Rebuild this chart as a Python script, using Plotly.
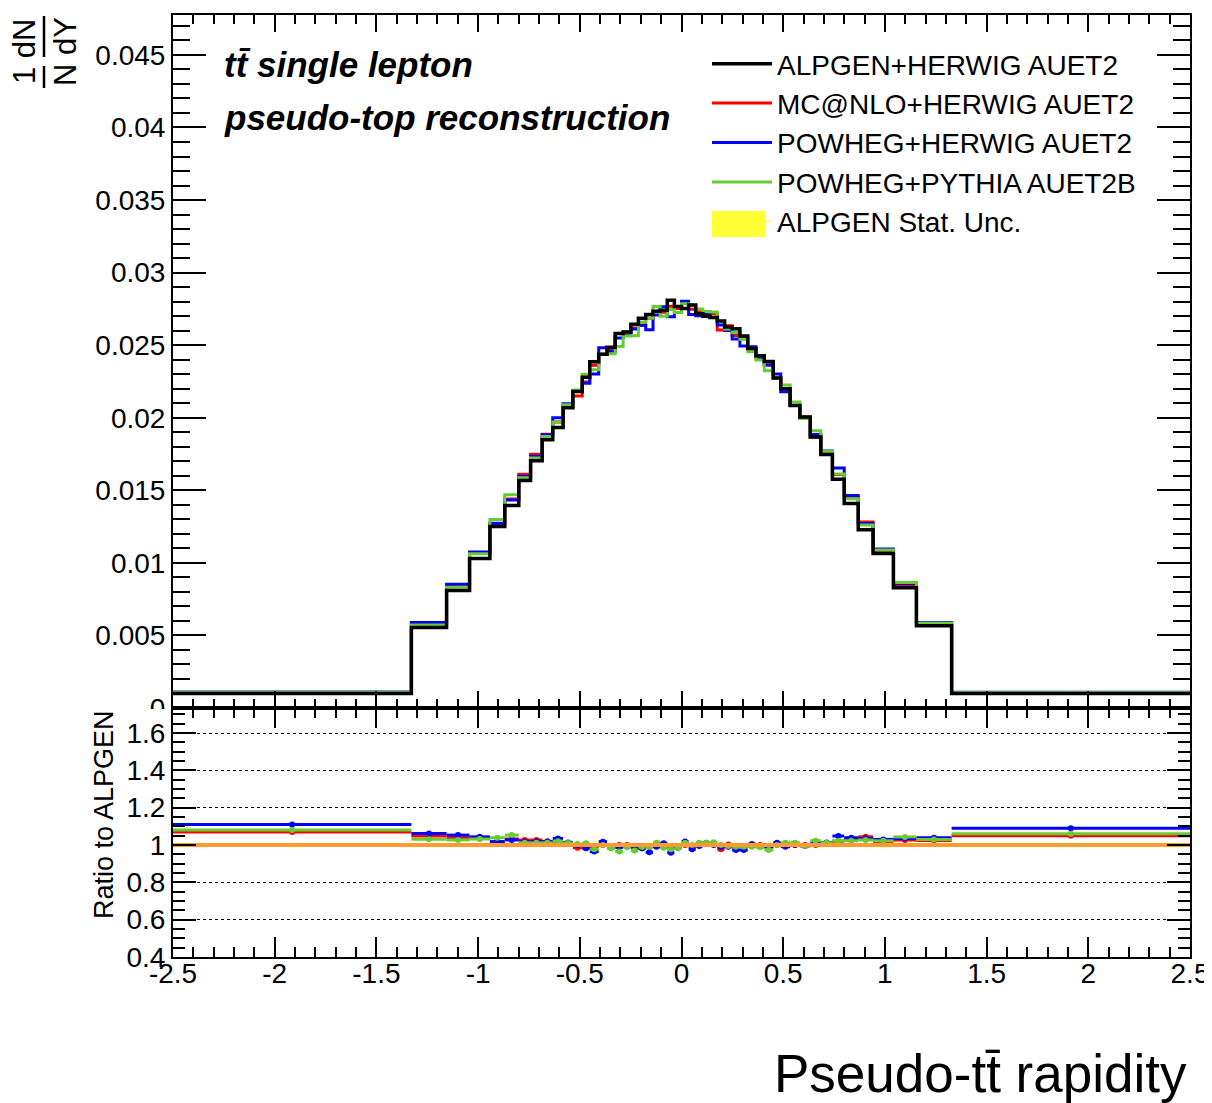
import numpy as np
import plotly.graph_objects as go

# ---------------- data ----------------
bin_edges = [-2.5, -1.328, -1.155, -1.042, -0.942, -0.869, -0.800, -0.742, -0.685,
             -0.633, -0.582, -0.534, -0.488, -0.451, -0.407, -0.366, -0.326, -0.287,
             -0.249, -0.212, -0.176, -0.140, -0.105, -0.070, -0.035, 0.0,
             0.035, 0.070, 0.105, 0.140, 0.176, 0.212, 0.249, 0.287, 0.326, 0.366,
             0.407, 0.451, 0.488, 0.534, 0.582, 0.633, 0.685, 0.742, 0.800, 0.869,
             0.942, 1.042, 1.155, 1.328, 2.5]

alpgen_herwig = [0.00100, 0.00555, 0.00810, 0.01030, 0.01250, 0.01395, 0.01568, 0.01703,
                 0.01849, 0.01932, 0.02068, 0.02180, 0.02279, 0.02386, 0.02438, 0.02486,
                 0.02580, 0.02590, 0.02644, 0.02685, 0.02712, 0.02733, 0.02740, 0.02810,
                 0.02767, 0.02753, 0.02776, 0.02717, 0.02700, 0.02690, 0.02666, 0.02625,
                 0.02614, 0.02564, 0.02477, 0.02427, 0.02388, 0.02274, 0.02199, 0.02084,
                 0.02005, 0.01868, 0.01747, 0.01577, 0.01409, 0.01228, 0.01064, 0.00829,
                 0.00566, 0.00100]

mcatnlo_herwig = [0.00107, 0.00582, 0.00842, 0.01066, 0.01265, 0.01440, 0.01610, 0.01749,
                  0.01886, 0.01971, 0.02078, 0.02149, 0.02247, 0.02362, 0.02438, 0.02474,
                  0.02580, 0.02590, 0.02618, 0.02637, 0.02685, 0.02733, 0.02726, 0.02768,
                  0.02753, 0.02753, 0.02748, 0.02731, 0.02732, 0.02717, 0.02605, 0.02633,
                  0.02567, 0.02551, 0.02477, 0.02427, 0.02364, 0.02274, 0.02199, 0.02084,
                  0.02005, 0.01868, 0.01756, 0.01609, 0.01451, 0.01282, 0.01083, 0.00851,
                  0.00580, 0.00105]

powheg_herwig = [0.00111, 0.00589, 0.00853, 0.01075, 0.01273, 0.01433, 0.01596, 0.01734,
                 0.01882, 0.02000, 0.02097, 0.02180, 0.02238, 0.02302, 0.02482, 0.02456,
                 0.02549, 0.02567, 0.02612, 0.02637, 0.02606, 0.02708, 0.02765, 0.02695,
                 0.02725, 0.02803, 0.02712, 0.02703, 0.02714, 0.02690, 0.02639, 0.02601,
                 0.02543, 0.02495, 0.02489, 0.02415, 0.02364, 0.02301, 0.02179, 0.02084,
                 0.01995, 0.01885, 0.01771, 0.01653, 0.01464, 0.01271, 0.01096, 0.00858,
                 0.00588, 0.00109]

powheg_pythia = [0.00108, 0.00572, 0.00832, 0.01063, 0.01299, 0.01469, 0.01587, 0.01723,
                 0.01871, 0.01971, 0.02089, 0.02191, 0.02300, 0.02331, 0.02438, 0.02441,
                 0.02490, 0.02564, 0.02565, 0.02658, 0.02685, 0.02766, 0.02699, 0.02745,
                 0.02725, 0.02786, 0.02776, 0.02750, 0.02732, 0.02728, 0.02666, 0.02612,
                 0.02588, 0.02541, 0.02455, 0.02398, 0.02324, 0.02274, 0.02225, 0.02109,
                 0.01995, 0.01911, 0.01768, 0.01613, 0.01441, 0.01261, 0.01088, 0.00865,
                 0.00583, 0.00106]

# relative statistical uncertainty of ALPGEN (ratio band half-width)
alpgen_stat_rel = [0.004, 0.010, 0.009, 0.009, 0.008, 0.008, 0.008, 0.007, 0.007, 0.007,
                   0.007, 0.007, 0.006, 0.006, 0.006, 0.006, 0.006, 0.006, 0.006, 0.006,
                   0.006, 0.006, 0.006, 0.006, 0.006, 0.006, 0.006, 0.006, 0.006, 0.006,
                   0.006, 0.006, 0.006, 0.006, 0.006, 0.006, 0.006, 0.006, 0.007, 0.007,
                   0.007, 0.007, 0.007, 0.007, 0.008, 0.008, 0.008, 0.009, 0.009, 0.004]

series_names = ["ALPGEN+HERWIG AUET2", "MC@NLO+HERWIG AUET2",
                "POWHEG+HERWIG AUET2", "POWHEG+PYTHIA AUET2B"]
band_name = "ALPGEN Stat. Unc."

x_tick_vals = [-2.5, -2, -1.5, -1, -0.5, 0, 0.5, 1, 1.5, 2, 2.5]
x_tick_text = ["-2.5", "-2", "-1.5", "-1", "-0.5", "0", "0.5", "1", "1.5", "2", "2.5"]

# ---------------- styling ----------------
FONT = "Liberation Sans, Arial, Helvetica, sans-serif"
C_BLACK = "#000000"
C_RED = "#ff0000"
C_BLUE = "#0000ff"
C_GREEN = "#66cc33"
C_ORANGE = "#ff9a2e"
C_YELLOW = "#ffff33"

edges = np.array(bin_edges)
centers = 0.5 * (edges[:-1] + edges[1:])
halfw = 0.5 * (edges[1:] - edges[:-1])
ref = np.array(alpgen_herwig)


def step_y(vals):
    v = list(vals)
    return v + [v[-1]]


fig = go.Figure()

# ---- ratio panel: ALPGEN stat band (yellow) ----
band_hi = 1 + np.array(alpgen_stat_rel)
band_lo = 1 - np.array(alpgen_stat_rel)
bx, by = [], []
for i in range(len(centers)):
    bx += [edges[i], edges[i + 1]]
    by += [band_hi[i], band_hi[i]]
for i in reversed(range(len(centers))):
    bx += [edges[i + 1], edges[i]]
    by += [band_lo[i], band_lo[i]]
fig.add_trace(go.Scatter(x=bx, y=by, xaxis="x2", yaxis="y2", mode="lines",
                         fill="toself", fillcolor=C_YELLOW, line=dict(width=0, color=C_YELLOW),
                         showlegend=False, hoverinfo="skip"))
# legend entry for the band (the filled box is drawn as a shape below)
fig.add_trace(go.Scatter(x=[None], y=[None], xaxis="x2", yaxis="y2", mode="lines",
                         line=dict(color=C_YELLOW, width=1), name=band_name, legendrank=5))

# ---- upper panel: step histograms ----
upper = [(mcatnlo_herwig, C_RED, series_names[1], 2, 3),
         (powheg_herwig, C_BLUE, series_names[2], 3, 3),
         (powheg_pythia, C_GREEN, series_names[3], 4, 3),
         (alpgen_herwig, C_BLACK, series_names[0], 1, 3.5)]
for vals, col, name, rank, w in upper:
    fig.add_trace(go.Scatter(x=edges, y=step_y(vals), xaxis="x", yaxis="y",
                             mode="lines", line=dict(color=col, width=w, shape="hv"),
                             name=name, legendrank=rank))

# ---- ratio panel: ratio to ALPGEN ----
for vals, col in [(mcatnlo_herwig, C_RED), (powheg_herwig, C_BLUE), (powheg_pythia, C_GREEN)]:
    r = np.array(vals) / ref
    fig.add_trace(go.Scatter(x=centers, y=r, xaxis="x2", yaxis="y2", mode="markers",
                             marker=dict(color=col, size=6),
                             error_x=dict(type="data", array=halfw, symmetric=True,
                                          color=col, thickness=3, width=0),
                             showlegend=False))

# ALPGEN / ALPGEN (orange line at unity)
fig.add_trace(go.Scatter(x=edges, y=step_y(ref / ref), xaxis="x2", yaxis="y2", mode="lines",
                         line=dict(color=C_ORANGE, width=4, shape="hv"), showlegend=False))

# ---------------- layout ----------------
# the page body has an 8px margin; the figure starts at (8, 8) in the window
BODY = 8
W, H = 1212 - BODY, 1103 - BODY
FL, FR, FT, FB = 173, 1190, 15, 957        # frame edges in window pixels
ml = FL - BODY
mt = FT - BODY
mr = W - (FR - BODY)
mb = H - (FB - BODY)
pw, ph = FR - FL, FB - FT
split_px = 708
split = (FB - split_px) / ph


def px_x(p):
    return (p - FL) / pw


def px_y(p):
    return (FB - p) / ph


axis_common = dict(showline=True, linewidth=2, linecolor="black", mirror="allticks",
                   ticks="inside", tickwidth=1.5, tickcolor="black", zeroline=False,
                   automargin=False,
                   tickfont=dict(family=FONT, size=28, color="black"))

fig.update_layout(
    width=W, height=H,
    margin=dict(l=ml, r=mr, t=mt, b=mb, pad=0, autoexpand=False),
    paper_bgcolor="white", plot_bgcolor="white",
    font=dict(family=FONT, color="black"),
    xaxis=dict(domain=[0, 1], anchor="y", range=[-2.5, 2.5], tickvals=x_tick_vals,
               ticklen=17, showticklabels=False, showgrid=False,
               minor=dict(ticks="inside", dtick=0.1, tick0=-2.5, ticklen=9, tickwidth=1.5,
                          tickcolor="black", showgrid=False),
               **axis_common),
    yaxis=dict(domain=[split, 1], anchor="x", range=[0, 0.04775], tick0=0, dtick=0.005,
               ticklen=33, showgrid=False,
               minor=dict(ticks="inside", dtick=0.001, ticklen=17, tickwidth=1.5,
                          tickcolor="black", showgrid=False),
               **axis_common),
    xaxis2=dict(domain=[0, 1], anchor="y2", range=[-2.5, 2.5], matches="x",
                tickvals=x_tick_vals, ticktext=x_tick_text, ticklen=20, showgrid=False,
                ticklabelstandoff=-10, ticklabeloverflow="allow",
                minor=dict(ticks="inside", dtick=0.1, tick0=-2.5, ticklen=10, tickwidth=1.5,
                           tickcolor="black", showgrid=False),
                **axis_common),
    yaxis2=dict(domain=[0, split], anchor="x2", range=[0.4, 1.734], tick0=0.4, dtick=0.2,
                ticklen=23,
                minor=dict(ticks="inside", dtick=0.05, ticklen=12, tickwidth=1.5,
                           tickcolor="black", showgrid=False),
                showgrid=True, gridcolor="black", griddash="dot", gridwidth=1.3,
                **axis_common),
    legend=dict(x=px_x(707), y=px_y(39), xanchor="left", yanchor="top",
                bgcolor="rgba(0,0,0,0)", font=dict(family=FONT, size=28, color="black"),
                itemwidth=60, tracegroupgap=0, traceorder="normal"),
    showlegend=True,
)

annotations = [
    dict(text="<b><i>tt\u0304 single lepton</i></b>", x=px_x(222), y=px_y(65),
         xanchor="left", yanchor="middle"),
    dict(text="<b><i>pseudo-top reconstruction</i></b>", x=px_x(222), y=px_y(118),
         xanchor="left", yanchor="middle"),
    dict(text="Pseudo-tt\u0304 rapidity", x=px_x(1189), y=px_y(1073),
         xanchor="right", yanchor="middle", font=dict(family=FONT, size=53, color="black")),
    dict(text="Ratio to ALPGEN", x=px_x(104), y=px_y(815), textangle=-90,
         xanchor="center", yanchor="middle", font=dict(family=FONT, size=27, color="black")),
    dict(text="1 dN", x=px_x(25), y=px_y(52), textangle=-90,
         xanchor="center", yanchor="middle", font=dict(family=FONT, size=31, color="black")),
    dict(text="N dY", x=px_x(66), y=px_y(52), textangle=-90,
         xanchor="center", yanchor="middle", font=dict(family=FONT, size=31, color="black")),
]
for a in annotations:
    a.setdefault("font", dict(family=FONT, size=35, color="black"))
    a.update(xref="paper", yref="paper", showarrow=False)
fig.update_layout(annotations=annotations)

shapes = [
    # fraction bars of the 1/N dN/dY title
    dict(type="line", xref="paper", yref="paper", x0=px_x(44), x1=px_x(44),
         y0=px_y(66), y1=px_y(88), line=dict(color="black", width=2.5)),
    dict(type="line", xref="paper", yref="paper", x0=px_x(44), x1=px_x(44),
         y0=px_y(16), y1=px_y(57), line=dict(color="black", width=2.5)),
    # ratio pad covering the lower half of the upper "0" label
    dict(type="rect", xref="paper", yref="paper", x0=px_x(130), x1=px_x(171),
         y0=px_y(719), y1=px_y(709), line=dict(width=0), fillcolor="white",
         layer="above"),
    # filled yellow box for the stat. unc. legend entry
    dict(type="rect", xref="paper", yref="paper", x0=px_x(712), x1=px_x(765),
         y0=px_y(237), y1=px_y(211), line=dict(width=0), fillcolor=C_YELLOW,
         layer="above"),
]
fig.update_layout(shapes=shapes)

fig.write_html("out.html")
